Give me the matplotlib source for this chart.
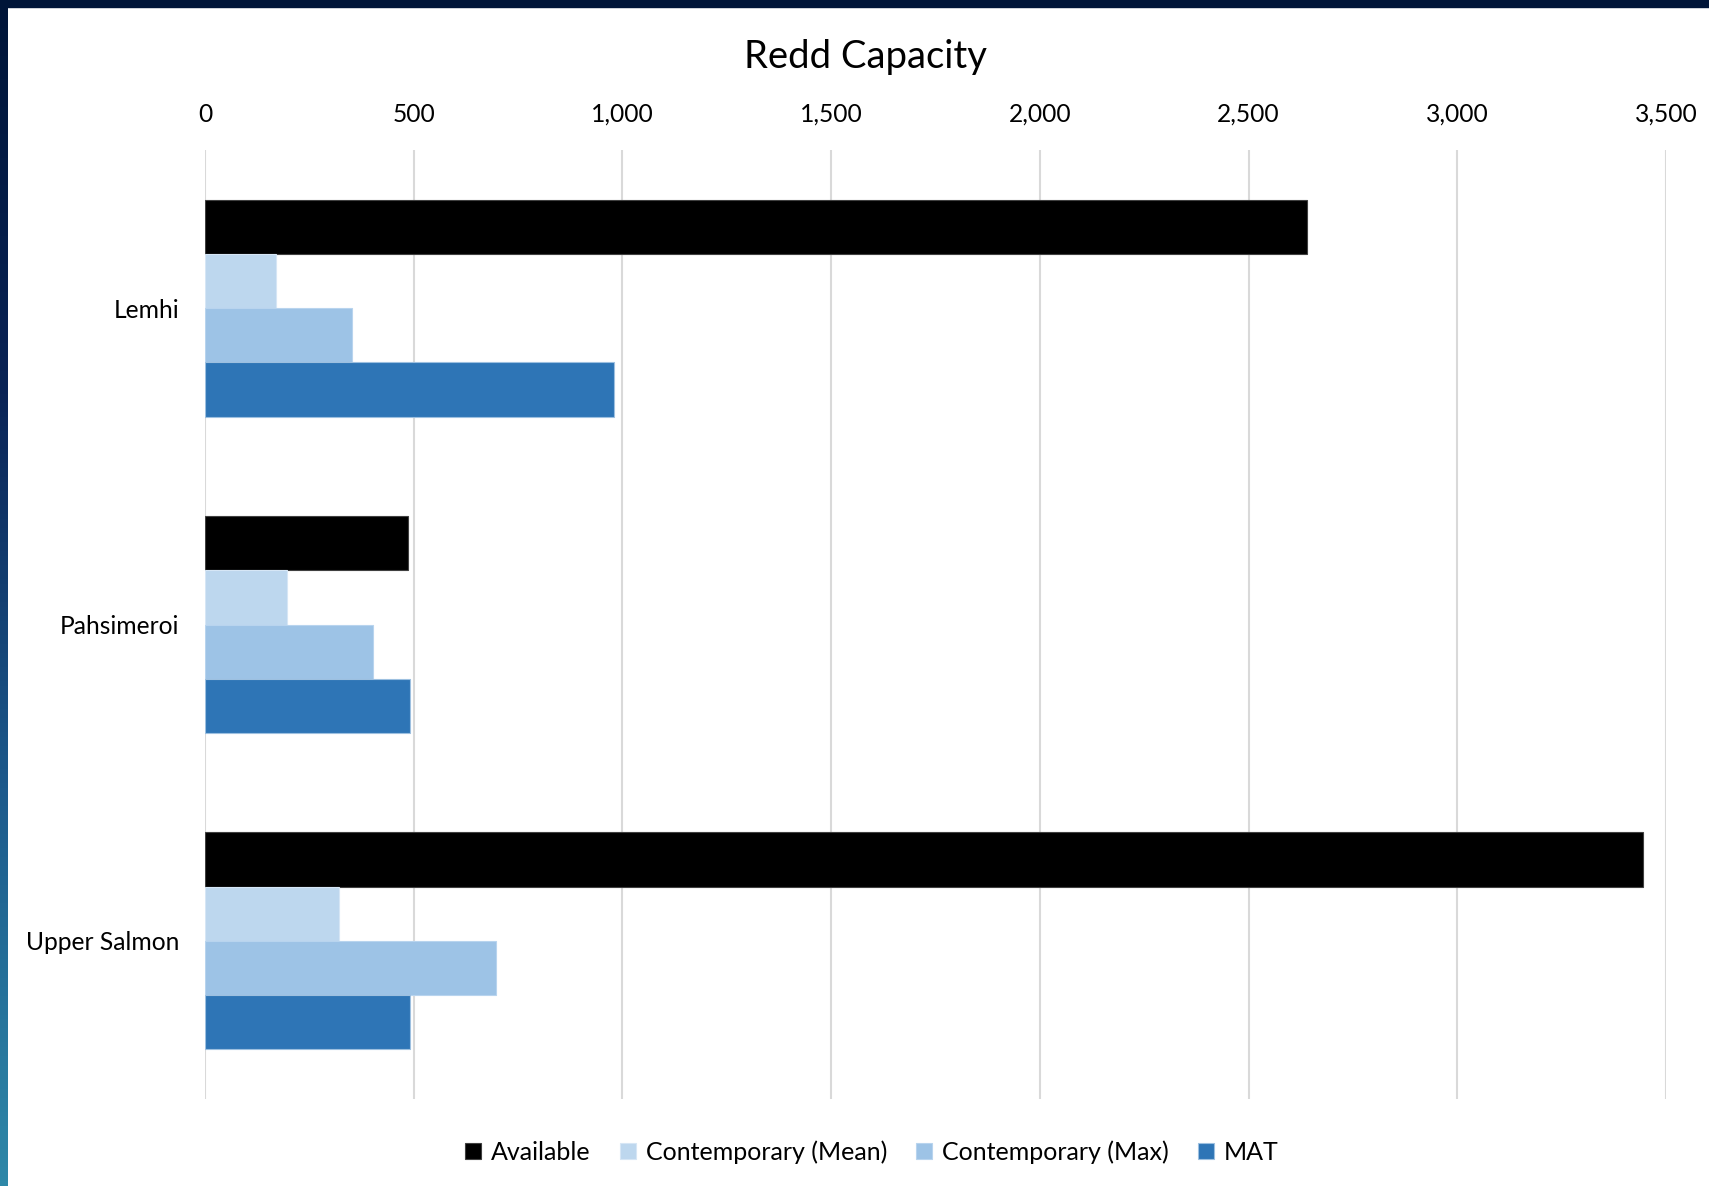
import numpy as np
import matplotlib.pyplot as plt
from matplotlib.patches import Rectangle
from matplotlib.colors import LinearSegmentedColormap
from matplotlib.ticker import FuncFormatter

plt.rcParams['font.family'] = ['Lato', 'DejaVu Sans']

categories = ['Lemhi', 'Pahsimeroi', 'Upper Salmon']
available = [2641, 486, 3446]
contemp_mean = [169, 197, 322]
contemp_max = [352, 403, 696]
mat = [980, 490, 490]

series = [('Available', available, '#000000', '#404040'),
          ('Contemporary (Mean)', contemp_mean, '#BDD7EE', '#d6e6f5'),
          ('Contemporary (Max)', contemp_max, '#9DC3E6', '#b8d4ee'),
          ('MAT', mat, '#2E75B6', '#9dc0e0')]

fig = plt.figure(figsize=(17.09, 11.86), dpi=100)

# slide frame: navy strip on top, gradient strip on the left
strip = fig.add_axes([0, 0, 8 / 1709, 1])
cmap = LinearSegmentedColormap.from_list('frame', ['#001538', '#0a2456', '#1d5a8c', '#2e88a8'])
strip.imshow(np.linspace(0, 1, 256).reshape(-1, 1), aspect='auto', cmap=cmap)
strip.axis('off')
fig.patches.append(Rectangle((0, 1 - 7 / 1186), 1, 7 / 1186, transform=fig.transFigure,
                             color='#001538', zorder=5))

ax = fig.add_axes([205 / 1709, 87 / 1186, 1461 / 1709, 949 / 1186])

y = np.arange(len(categories))
h = 0.1716
for i, (name, vals, col, ec) in enumerate(series):
    ax.barh(y + (i - 1.5) * h, vals, height=h, color=col, edgecolor=ec, linewidth=0.8,
            label=name, zorder=3)

ax.set_xlim(0, 3500)
ax.set_ylim(2.5, -0.5)
ax.set_xticks(np.arange(0, 3501, 500))
ax.xaxis.set_major_formatter(FuncFormatter(lambda v, p: f'{int(v):,}'))
ax.xaxis.tick_top()
ax.tick_params(axis='x', length=0, pad=17.5, labelsize=17.7)
ax.set_yticks(y)
ax.set_yticklabels(categories)
ax.tick_params(axis='y', length=0, pad=18.5, labelsize=17.7)
ax.grid(axis='x', color='#d9d9d9', linewidth=1.5, zorder=0)
for s in ax.spines.values():
    s.set_visible(False)

fig.text(866 / 1709, 1 - 57 / 1186, 'Redd Capacity', ha='center', va='center', fontsize=27.5)

fig.legend(loc='center', bbox_to_anchor=(872 / 1709, 1 - 1152 / 1186), ncol=4, frameon=False,
           fontsize=18, handlelength=0.65, handleheight=0.65, handletextpad=0.4, columnspacing=1.15)

fig.savefig('out.png', dpi=100)
